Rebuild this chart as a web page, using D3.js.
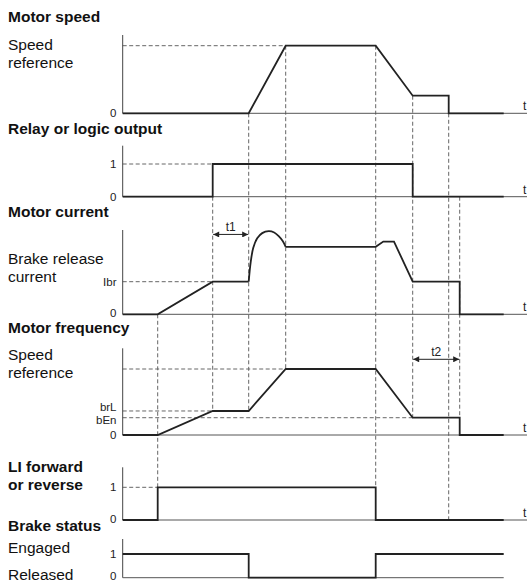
<!DOCTYPE html>
<html>
<head>
<meta charset="utf-8">
<script src="https://cdn.jsdelivr.net/npm/d3@7"></script>
<style>
  html, body { margin: 0; padding: 0; background: #fff; }
  svg { display: block; font-family: "Liberation Sans", Arial, Helvetica, sans-serif; }
</style>
</head>
<body>
<svg id="chart" width="527" height="582"></svg>
<script>
// ---- Time events (common time axis, arbitrary units) ----
const eventTimes = [3.5, 9.0, 12.6, 16.3, 25.3, 29.0, 32.6, 33.7]; // T1..T8
const timeEnd = 38.1;
const axisEnd = 40.43;

// ---- Signal levels ----
const speedLow = 0.26;   // reduced speed before stop (fraction of reference)
const brL = 0.364;       // brake release frequency (fraction of reference)
const bEn = 0.262;       // brake engage frequency (fraction of reference)
const peakCurrent = 2.55;
const runCurrent = 2.07;
const decelCurrent = 2.23;

// ---- Motor speed ----
const speedT = [0, 12.6, 16.3, 25.3, 29.0, 32.6, 32.6, 38.1];
const speedV = [0, 0, 1, 1, speedLow, speedLow, 0, 0];

// ---- Relay or logic output ----
const relayT = [0, 9.0, 9.0, 29.0, 29.0, 38.1];
const relayV = [0, 0, 1, 1, 0, 0];

// ---- Motor current (Ibr = 1) ----
const currentPreT = [0, 3.5, 9.0, 12.6];
const currentPreV = [0, 0, 1, 1];
const currentHumpT = [12.6, 12.8, 13.05, 13.45, 13.95, 14.6, 15.15, 15.6, 16.0, 16.3];
const currentHumpV = [1, 1.6, 2.03, 2.33, 2.49, peakCurrent, 2.51, 2.4, 2.25, runCurrent];
const currentPostT = [16.3, 25.3, 26.06, 27.13, 29.0, 33.7, 33.7, 38.1];
const currentPostV = [runCurrent, runCurrent, decelCurrent, decelCurrent, 1, 1, 0, 0];

// ---- Motor frequency ----
const freqT = [0, 3.5, 9.0, 12.6, 16.3, 25.3, 29.0, 33.7, 33.7, 38.1];
const freqV = [0, 0, brL, brL, 1, 1, bEn, bEn, 0, 0];

// ---- LI forward or reverse ----
const liT = [0, 3.5, 3.5, 25.3, 25.3, 38.1];
const liV = [0, 0, 1, 1, 0, 0];

// ---- Brake status ----
const brakeT = [0, 12.6, 12.6, 25.3, 25.3, 38.1];
const brakeV = [1, 1, 0, 0, 1, 1];

// ---- Tick labels per panel ----
const speedTicks = [{v: 0, label: "0"}];
const relayTicks = [{v: 0, label: "0"}, {v: 1, label: "1"}];
const currentTicks = [{v: 0, label: "0"}, {v: 1, label: "Ibr"}];
const freqTicks = [{v: 0, label: "0"}, {v: bEn, label: "bEn"}, {v: brL, label: "brL"}];
const liTicks = [{v: 0, label: "0"}, {v: 1, label: "1"}];
const brakeTicks = [{v: 0, label: "0"}, {v: 1, label: "1"}];

// Small vertical nudges for tick labels that sit close together (pixels)
const tickNudge = {brL: -4, bEn: 2.5};

const svg = d3.select("#chart");
const ink = "#222";
const guide = "#666";

const x = d3.scaleLinear().domain([0, axisEnd]).range([122.7, 527]);

// Panel layout: pixel rows for value 0 and value 1, and top of the vertical axis
const panels = {
  speed:   {y: d3.scaleLinear().domain([0, 1]).range([113.3, 45.7]), top: 35,    baseEnd: axisEnd, t: true,  zeroNudge: 0},
  relay:   {y: d3.scaleLinear().domain([0, 1]).range([196.7, 164]),  top: 145.7, baseEnd: axisEnd, t: true,  zeroNudge: 0},
  current: {y: d3.scaleLinear().domain([0, 1]).range([314.3, 281.7]), top: 230,  baseEnd: axisEnd, t: true,  zeroNudge: -1},
  freq:    {y: d3.scaleLinear().domain([0, 1]).range([435, 369]),    top: 348.3, baseEnd: axisEnd, t: true,  zeroNudge: 0},
  li:      {y: d3.scaleLinear().domain([0, 1]).range([520, 487.3]),  top: 467.3, baseEnd: axisEnd, t: true,  zeroNudge: -1.5},
  brake:   {y: d3.scaleLinear().domain([0, 1]).range([577.7, 554]),  top: 539,   baseEnd: timeEnd, t: false, zeroNudge: -1.5}
};
const ticksFor = {speed: speedTicks, relay: relayTicks, current: currentTicks,
                  freq: freqTicks, li: liTicks, brake: brakeTicks};

// ---- Arrow markers ----
const defs = svg.append("defs");
defs.append("marker")
  .attr("id", "arrow")
  .attr("viewBox", "0 0 10 10")
  .attr("refX", 10).attr("refY", 5)
  .attr("markerWidth", 7).attr("markerHeight", 6)
  .attr("markerUnits", "userSpaceOnUse")
  .attr("orient", "auto-start-reverse")
  .append("path").attr("d", "M0,0 L10,5 L0,10 Z").attr("fill", ink);

// ---- Horizontal dashed reference lines (from the axis to the event) ----
const hGuides = [
  {p: "speed", v: 1, t: 16.3},
  {p: "relay", v: 1, t: 9.0},
  {p: "current", v: 1, t: 9.0},
  {p: "freq", v: 1, t: 16.3},
  {p: "freq", v: brL, t: 9.0},
  {p: "freq", v: bEn, t: 29.0},
  {p: "li", v: 1, t: 3.5}
];
svg.append("g").selectAll("line").data(hGuides).join("line")
  .attr("x1", x(0)).attr("x2", d => x(d.t))
  .attr("y1", d => panels[d.p].y(d.v)).attr("y2", d => panels[d.p].y(d.v))
  .attr("stroke", guide).attr("stroke-width", 1).attr("stroke-dasharray", "4,2.5");

// ---- Vertical dashed event lines spanning several panels ----
const vGuides = [
  {t: eventTimes[0], from: ["current", 0], to: ["li", 1]},
  {t: eventTimes[1], from: ["relay", 0], to: ["freq", brL]},
  {t: eventTimes[2], from: ["speed", 0], to: ["freq", brL]},
  {t: eventTimes[3], from: ["speed", 1], to: ["freq", 1]},
  {t: eventTimes[4], from: ["speed", 1], to: ["li", 1]},
  {t: eventTimes[5], from: ["speed", speedLow], to: ["freq", bEn]},
  {t: eventTimes[6], from: ["speed", 0], to: ["li", 0]},
  {t: eventTimes[7], from: ["relay", 0], to: ["freq", bEn]}
];
svg.append("g").selectAll("line").data(vGuides).join("line")
  .attr("x1", d => x(d.t)).attr("x2", d => x(d.t))
  .attr("y1", d => panels[d.from[0]].y(d.from[1]))
  .attr("y2", d => panels[d.to[0]].y(d.to[1]))
  .attr("stroke", guide).attr("stroke-width", 1).attr("stroke-dasharray", "4,2.5");

// ---- Axes, baselines, tick labels ----
Object.entries(panels).forEach(([key, p]) => {
  const g = svg.append("g");
  g.append("line")
    .attr("x1", x(0)).attr("x2", x(0))
    .attr("y1", p.top).attr("y2", p.y(0))
    .attr("stroke", "#444").attr("stroke-width", 1);
  g.append("line")
    .attr("x1", x(0)).attr("x2", x(p.baseEnd))
    .attr("y1", p.y(0)).attr("y2", p.y(0))
    .attr("stroke", "#555").attr("stroke-width", 1);
  g.selectAll("text.tick").data(ticksFor[key]).join("text")
    .attr("class", "tick")
    .attr("x", 116.5)
    .attr("y", d => p.y(d.v) + (tickNudge[d.label] || 0) + (d.v === 0 ? p.zeroNudge : 0))
    .attr("dy", "0.35em")
    .attr("text-anchor", "end")
    .attr("font-size", 11.5).attr("fill", ink)
    .text(d => d.label);
  if (p.t) {
    g.append("text")
      .attr("x", 523).attr("y", p.y(0) - 3)
      .attr("font-size", 12).attr("fill", ink)
      .text("t");
  }
});

// ---- Signal traces ----
function trace(panelKey, ts, vs, curve) {
  const p = panels[panelKey];
  const line = d3.line().x(d => x(d[0])).y(d => p.y(d[1])).curve(curve || d3.curveLinear);
  svg.append("path")
    .datum(d3.zip(ts, vs))
    .attr("d", line)
    .attr("fill", "none")
    .attr("stroke", ink)
    .attr("stroke-width", 1.8)
    .attr("stroke-linejoin", "miter");
}
trace("speed", speedT, speedV);
trace("relay", relayT, relayV);
trace("current", currentPreT, currentPreV);
trace("current", currentHumpT, currentHumpV, d3.curveCatmullRom.alpha(0.5));
trace("current", currentPostT, currentPostV);
trace("freq", freqT, freqV);
trace("li", liT, liV);
trace("brake", brakeT, brakeV);

// ---- Delay dimension arrows ----
const delays = [
  {label: "t1", p: "current", v: 2.45, t0: eventTimes[1], t1: eventTimes[2]},
  {label: "t2", p: "freq", v: 1.147, t0: eventTimes[5], t1: eventTimes[7]}
];
delays.forEach(d => {
  const yy = panels[d.p].y(d.v);
  svg.append("line")
    .attr("x1", x(d.t0) + 0.5).attr("x2", x(d.t1) - 0.5)
    .attr("y1", yy).attr("y2", yy)
    .attr("stroke", ink).attr("stroke-width", 1)
    .attr("marker-start", "url(#arrow)").attr("marker-end", "url(#arrow)");
  svg.append("text")
    .attr("x", (x(d.t0) + x(d.t1)) / 2).attr("y", yy - 3)
    .attr("text-anchor", "middle")
    .attr("font-size", 12).attr("fill", ink)
    .text(d.label);
});

// ---- Left-hand captions ----
const titles = [
  {text: "Motor speed", y: 21.5},
  {text: "Relay or logic output", y: 133.5},
  {text: "Motor current", y: 216.7},
  {text: "Motor frequency", y: 333},
  {text: "LI forward", y: 471.7},
  {text: "or reverse", y: 490},
  {text: "Brake status", y: 530.7}
];
const captions = [
  {text: "Speed", y: 50},
  {text: "reference", y: 67.5},
  {text: "Brake release", y: 263.5},
  {text: "current", y: 281.5},
  {text: "Speed", y: 360},
  {text: "reference", y: 378.3},
  {text: "Engaged", y: 553.3},
  {text: "Released", y: 579.5}
];
svg.append("g").selectAll("text").data(titles).join("text")
  .attr("x", 8).attr("y", d => d.y)
  .attr("font-size", 15.5).attr("font-weight", "bold").attr("fill", "#111")
  .text(d => d.text);
svg.append("g").selectAll("text").data(captions).join("text")
  .attr("x", 8).attr("y", d => d.y)
  .attr("font-size", 15.5).attr("fill", "#111")
  .text(d => d.text);
</script>
</body>
</html>
